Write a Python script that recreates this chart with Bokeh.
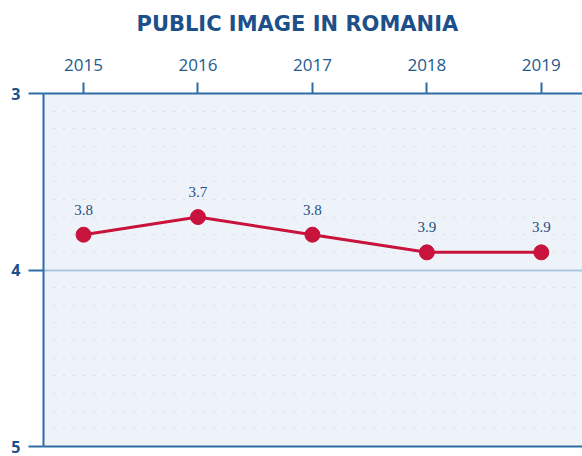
from bokeh.plotting import figure
from bokeh.models import Range1d, FixedTicker, LinearAxis, ColumnDataSource, LabelSet
from bokeh.embed import file_html
from bokeh.resources import INLINE

years = [2015, 2016, 2017, 2018, 2019]
scores = [3.8, 3.7, 3.8, 3.9, 3.9]
score_labels = ["3.8", "3.7", "3.8", "3.9", "3.9"]
y_ticks = [3, 4, 5]
minor_y = [3.1, 3.2, 3.3, 3.4, 3.5, 3.6, 3.7, 3.8, 3.9,
           4.1, 4.2, 4.3, 4.4, 4.5, 4.6, 4.7, 4.8, 4.9]

BLUE = "#2e6da4"
TXT = "#245a8e"
RED = "#c8143c"

p = figure(width=582, height=456, output_backend="svg", toolbar_location=None,
           x_range=Range1d(2014.65, 2019.36), y_range=Range1d(5, 3),
           x_axis_location="above", min_border_left=43, min_border_right=0,
           min_border_top=93, min_border_bottom=10,
           title="PUBLIC IMAGE IN ROMANIA")
p.title.align = "left"
p.title.offset = 93
p.title.text_font = "DejaVu Sans"
p.title.text_font_style = "bold"
p.title.text_font_size = "21px"
p.title.text_color = "#1d4f8a"
p.title.standoff = 10

p.background_fill_color = "#eef3fa"
p.border_fill_color = "white"
p.outline_line_color = None

xa = p.xaxis[0]
xa.ticker = FixedTicker(ticks=years)
xa.axis_line_color = BLUE
xa.axis_line_width = 2
xa.major_tick_line_color = BLUE
xa.major_tick_line_width = 2
xa.major_tick_in = 0
xa.major_tick_out = 11
xa.minor_tick_line_color = None
xa.major_label_text_font = "Open Sans"
xa.major_label_text_font_size = "17px"
xa.major_label_text_color = TXT
xa.major_label_standoff = 12
xa.axis_label = " "
xa.axis_label_text_font_size = "2px"
xa.axis_label_standoff = 10

ya = p.yaxis[0]
ya.ticker = FixedTicker(ticks=y_ticks, minor_ticks=minor_y)
ya.axis_line_color = BLUE
ya.axis_line_width = 2
ya.major_tick_line_color = BLUE
ya.major_tick_line_width = 2
ya.major_tick_in = 0
ya.major_tick_out = 15
ya.minor_tick_line_color = None
ya.major_label_text_font = "Open Sans"
ya.major_label_text_font_style = "bold"
ya.major_label_text_font_size = "16px"
ya.major_label_text_color = "#1d4f8a"
ya.major_label_standoff = 8

bottom = LinearAxis(ticker=FixedTicker(ticks=[]), axis_line_color=BLUE, axis_line_width=2,
                    major_tick_line_color=None, minor_tick_line_color=None,
                    major_label_text_font_size="0px")
p.add_layout(bottom, "below")

p.xgrid.grid_line_color = None
p.ygrid.grid_line_color = "#a9c7df"
p.ygrid.grid_line_width = 2
p.ygrid.minor_grid_line_color = "#bcc6d4"
p.ygrid.minor_grid_line_dash = "1 9"
p.ygrid.minor_grid_line_width = 1

src = ColumnDataSource(dict(x=years, y=scores, lab=score_labels))
p.line("x", "y", source=src, line_color=RED, line_width=3)
p.scatter("x", "y", source=src, size=15, fill_color=RED, line_color=RED)
labels = LabelSet(x="x", y="y", text="lab", source=src, y_offset=20,
                  text_align="center", text_baseline="bottom",
                  text_font="Open Sans", text_font_size="15px", text_color="#1f4f82")
p.add_layout(labels)

open("out.html", "w").write(file_html(p, INLINE))
